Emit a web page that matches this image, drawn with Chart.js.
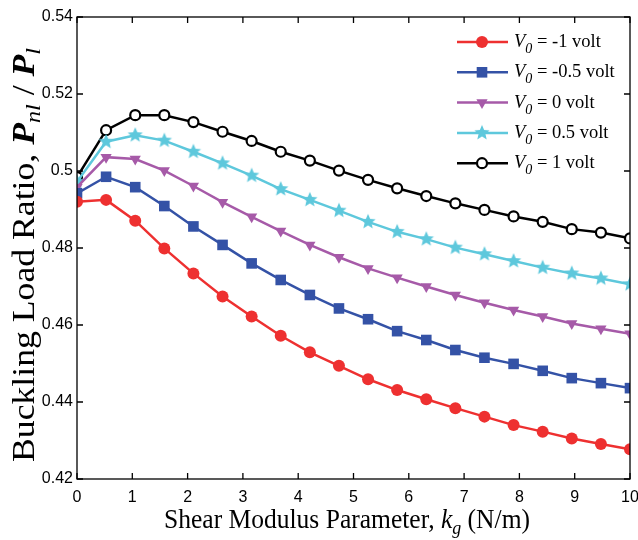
<!DOCTYPE html>
<html>
<head>
<meta charset="utf-8">
<script src="https://cdn.jsdelivr.net/npm/chart.js@4/dist/chart.umd.min.js"></script>
<style>
  html, body { margin:0; padding:0; background:#fff; }
  #wrap { width:638px; height:540px; position:relative; }
</style>
</head>
<body>
<div id="wrap"><canvas id="c" width="638" height="540"></canvas></div>
<script>
// k_g values (N/m)
const kg = [0, 0.526, 1.053, 1.579, 2.105, 2.632, 3.158, 3.684, 4.211, 4.737,
            5.263, 5.789, 6.316, 6.842, 7.368, 7.895, 8.421, 8.947, 9.474, 10];

const vNeg1   = [0.4920, 0.4925, 0.4871, 0.4799, 0.4734, 0.4674, 0.4622, 0.4572, 0.4529, 0.4494,
                 0.4459, 0.4431, 0.4407, 0.4384, 0.4362, 0.4340, 0.4323, 0.4305, 0.4291, 0.4277];
const vNeg05  = [0.4942, 0.4985, 0.4958, 0.4909, 0.4856, 0.4808, 0.4760, 0.4717, 0.4678, 0.4643,
                 0.4615, 0.4584, 0.4561, 0.4535, 0.4515, 0.4499, 0.4481, 0.4462, 0.4449, 0.4436];
const vZero   = [0.4958, 0.5036, 0.5031, 0.5001, 0.4961, 0.4919, 0.4881, 0.4844, 0.4808, 0.4776,
                 0.4747, 0.4723, 0.4700, 0.4678, 0.4658, 0.4639, 0.4622, 0.4604, 0.4590, 0.4577];
const vPos05  = [0.4972, 0.5076, 0.5093, 0.5079, 0.5050, 0.5020, 0.4988, 0.4953, 0.4925, 0.4897,
                 0.4868, 0.4842, 0.4823, 0.4801, 0.4784, 0.4766, 0.4749, 0.4734, 0.4721, 0.4706];
const vPos1   = [0.4984, 0.5106, 0.5145, 0.5145, 0.5127, 0.5102, 0.5078, 0.5050, 0.5027, 0.5001,
                 0.4977, 0.4955, 0.4935, 0.4916, 0.4899, 0.4882, 0.4868, 0.4849, 0.4840, 0.4825];

const seriesLabels = ['-1', '-0.5', '0', '0.5', '1'];
const xTicks = [0, 1, 2, 3, 4, 5, 6, 7, 8, 9, 10];
const yTicks = [0.42, 0.44, 0.46, 0.48, 0.50, 0.52, 0.54];

const RED = '#ee3030', BLUE = '#3452a6', PURPLE = '#a65aa8', CYAN = '#5ec8dc', BLACK = '#000';

function starCanvas(color, r) {
  const s = Math.ceil(r * 2 + 2);
  const cv = document.createElement('canvas');
  cv.width = s; cv.height = s;
  const g = cv.getContext('2d');
  g.fillStyle = color;
  g.beginPath();
  for (let i = 0; i < 10; i++) {
    const rr = i % 2 ? r * 0.45 : r;
    const a = -Math.PI / 2 + i * Math.PI / 5;
    g.lineTo(s / 2 + rr * Math.cos(a), s / 2 + rr * Math.sin(a));
  }
  g.closePath();
  g.fill();
  return cv;
}
const star = starCanvas(CYAN, 8);

function pts(ys) { return ys.map((y, i) => ({ x: kg[i], y })); }

const styles = [
  { color: RED,    pointStyle: 'circle',   radius: 6,   rotation: 0,   fill: RED,   bw: 0 },
  { color: BLUE,   pointStyle: 'rect',     radius: 7.5, rotation: 0,   fill: BLUE,  bw: 0 },
  { color: PURPLE, pointStyle: 'triangle', radius: 6.5, rotation: 180, fill: PURPLE, bw: 0 },
  { color: CYAN,   pointStyle: star,       radius: 8,   rotation: 0,   fill: CYAN,  bw: 0 },
  { color: BLACK,  pointStyle: 'circle',   radius: 5,   rotation: 0,   fill: '#fff', bw: 2.2 }
];
const allData = [vNeg1, vNeg05, vZero, vPos05, vPos1];

const datasets = allData.map((d, i) => ({
  label: 'V0 = ' + seriesLabels[i] + ' volt',
  data: pts(d),
  borderColor: styles[i].color,
  borderWidth: 2.5,
  pointStyle: styles[i].pointStyle,
  pointRadius: styles[i].radius,
  pointRotation: styles[i].rotation,
  pointBackgroundColor: styles[i].fill,
  pointBorderColor: styles[i].color,
  pointBorderWidth: styles[i].bw,
  tension: 0
}));

// draw text pieces in a row: [text, font, dy]
function drawRich(ctx, parts, x, y) {
  let cx = x;
  parts.forEach(p => {
    ctx.font = p[1];
    ctx.fillText(p[0], cx, y + (p[2] || 0));
    cx += ctx.measureText(p[0]).width;
  });
  return cx - x;
}
function richWidth(ctx, parts) {
  let w = 0;
  parts.forEach(p => { ctx.font = p[1]; w += ctx.measureText(p[0]).width; });
  return w;
}

function drawMarker(ctx, st, x, y) {
  ctx.save();
  ctx.fillStyle = st.fill;
  ctx.strokeStyle = st.color;
  ctx.lineWidth = st.bw;
  if (st.pointStyle === star) {
    ctx.drawImage(star, x - star.width / 2, y - star.height / 2);
  } else if (st.pointStyle === 'rect') {
    const s = st.radius * Math.SQRT1_2;
    ctx.fillRect(x - s, y - s, 2 * s, 2 * s);
  } else if (st.pointStyle === 'triangle') {
    const r = st.radius;
    ctx.beginPath();
    ctx.moveTo(x, y + r);
    ctx.lineTo(x - r * 0.866, y - r * 0.5);
    ctx.lineTo(x + r * 0.866, y - r * 0.5);
    ctx.closePath();
    ctx.fill();
  } else {
    ctx.beginPath();
    ctx.arc(x, y, st.radius, 0, Math.PI * 2);
    ctx.fill();
    if (st.bw) ctx.stroke();
  }
  ctx.restore();
}

const SERIF = '"Liberation Serif", "Times New Roman", serif';

// text drawn squeezed/stretched along its run to a given length
function drawFitted(ctx, parts, cx, y, len) {
  const w = richWidth(ctx, parts);
  ctx.save();
  ctx.translate(cx, y);
  ctx.scale(len / w, 1);
  drawRich(ctx, parts, -w / 2, 0);
  ctx.restore();
}

const framePlugin = {
  id: 'frame',
  afterDraw(chart) {
    const { ctx, chartArea: a, scales } = chart;
    ctx.save();
    ctx.strokeStyle = '#000';
    ctx.lineWidth = 1.3;
    ctx.strokeRect(a.left, a.top, a.right - a.left, a.bottom - a.top);
    ctx.beginPath();
    xTicks.forEach(v => {
      const px = scales.x.getPixelForValue(v);
      ctx.moveTo(px, a.bottom); ctx.lineTo(px, a.bottom - 6);
      ctx.moveTo(px, a.top);    ctx.lineTo(px, a.top + 6);
    });
    yTicks.forEach(v => {
      const py = scales.y.getPixelForValue(v);
      ctx.moveTo(a.left, py);  ctx.lineTo(a.left + 6, py);
      ctx.moveTo(a.right, py); ctx.lineTo(a.right - 6, py);
    });
    ctx.stroke();

    // axis titles
    ctx.fillStyle = '#000';
    ctx.textBaseline = 'alphabetic';
    let fs = 27;
    let nf = fs + 'px ' + SERIF, itf = 'italic ' + fs + 'px ' + SERIF, sub = 'italic 19px ' + SERIF;
    drawFitted(ctx, [['Shear Modulus Parameter, ', nf], ['k', itf], ['g', sub, 6], [' (N/m)', nf]],
               347, 528, 366);

    fs = 31;
    nf = fs + 'px ' + SERIF; sub = 'italic 21px ' + SERIF;
    const pf = 'italic bold ' + fs + 'px ' + SERIF;
    ctx.save();
    ctx.translate(34, 255);
    ctx.rotate(-Math.PI / 2);
    drawFitted(ctx, [['Buckling Load Ratio, ', nf], ['P', pf], ['nl', sub, 6],
                     [' / ', nf], ['P', pf], ['l', sub, 6]], 0, 0, 414);
    ctx.restore();

    // legend
    const lf = '18.5px ' + SERIF, lit = 'italic 18.5px ' + SERIF, lsub = 'italic 14px ' + SERIF;
    styles.forEach((st, i) => {
      const y = 42 + i * 30.3;
      ctx.strokeStyle = st.color;
      ctx.lineWidth = 2.5;
      ctx.beginPath(); ctx.moveTo(457, y); ctx.lineTo(508, y); ctx.stroke();
      drawMarker(ctx, st, 482, y);
      ctx.fillStyle = '#000';
      drawRich(ctx, [['V', lit], ['0', lsub, 6], [' = ' + seriesLabels[i] + ' volt', lf]], 514, y + 5);
    });
    ctx.restore();
  }
};

new Chart(document.getElementById('c'), {
  type: 'line',
  data: { datasets },
  options: {
    responsive: false,
    animation: false,
    devicePixelRatio: 1,
    layout: { padding: { top: 17, right: 8, left: 0, bottom: 0 } },
    plugins: { legend: { display: false }, tooltip: { enabled: false } },
    scales: {
      x: {
        type: 'linear', min: 0, max: 10,
        afterBuildTicks: s => { s.ticks = xTicks.map(v => ({ value: v })); },
        afterFit: s => { s.height = 61; s.paddingLeft = 0; s.paddingRight = 0; },
        grid: { display: false, drawTicks: false },
        border: { display: false },
        ticks: { color: '#000', padding: 9, font: { family: '"Liberation Sans", Arial', size: 16 }, maxRotation: 0 }
      },
      y: {
        type: 'linear', min: 0.42, max: 0.54,
        afterBuildTicks: s => { s.ticks = yTicks.map(v => ({ value: v })); },
        afterFit: s => { s.width = 77; s.paddingTop = 0; s.paddingBottom = 0; },
        grid: { display: false, drawTicks: false },
        border: { display: false },
        ticks: { color: '#000', padding: 4, font: { family: '"Liberation Sans", Arial', size: 16 },
                 callback: v => String(+v.toFixed(2)) }
      }
    }
  },
  plugins: [framePlugin]
});
</script>
</body>
</html>
